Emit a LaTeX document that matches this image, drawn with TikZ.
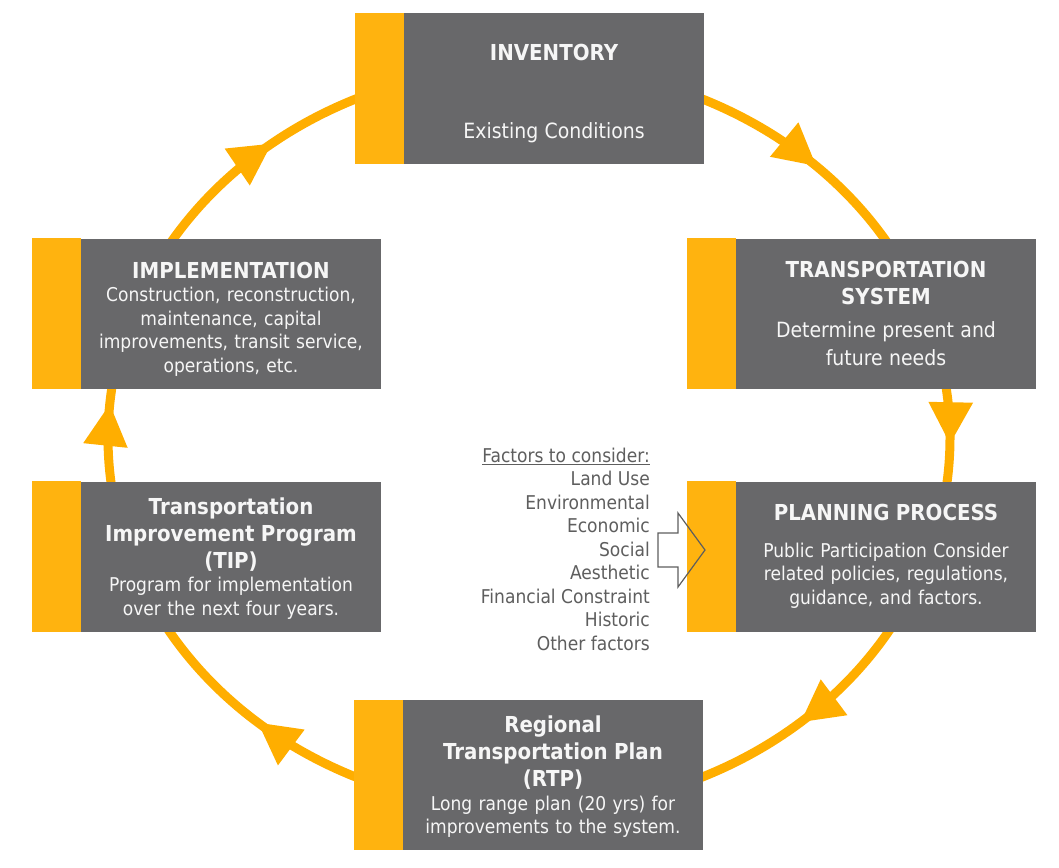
\documentclass[tikz,border=0pt]{standalone}
\usepackage{fontspec}
\setmainfont{DejaVu Sans}[FakeStretch=0.9]
\usetikzlibrary{arrows.meta,decorations.markings}
\definecolor{cycorange}{HTML}{FFAE00}
\definecolor{stripeorange}{HTML}{FFB30F}
\definecolor{boxgray}{HTML}{68686A}
\definecolor{factgray}{HTML}{5E5E5E}
\definecolor{boxtext}{HTML}{F6F6F6}
\newcommand\titlef{\bfseries\fontsize{22}{27}\selectfont}
\newcommand\bodyf{\fontsize{19}{23.5}\selectfont}
\newcommand\bodyL{\fontsize{21}{28.5}\selectfont}
\begin{document}
\begin{tikzpicture}[x=1pt,y=1pt,
  cyc/.style={draw=cycorange, line width=9pt},
  tipat/.style={postaction={decorate,decoration={markings,
      mark=at position #1 with {\arrow{Triangle[length=42pt,width=42pt]}}}}},
  graybox/.style={fill=boxgray, minimum width=300pt, minimum height=150pt,
      text width=292pt, inner sep=0pt, align=center, text=boxtext, font=\bodyf},
  stripe/.style={fill=stripeorange},
  factors/.style={align=right, inner sep=0pt, text=factgray, font=\bodyf},
  hollow/.style={draw=factgray, line width=1.2pt, line join=miter}
]
\useasboundingbox (0,0) rectangle (1059,-867);
\coordinate (O) at (529,-438);
% points of the cycle, lying under the boxes
\coordinate (inv-out)  at ([shift={(O)}]70:421pt and 372pt);
\coordinate (ts-in)    at ([shift={(O)}]28:421pt and 372pt);
\coordinate (ts-out)   at ([shift={(O)}]12:421pt and 372pt);
\coordinate (pp-in)    at ([shift={(O)}]-12:421pt and 372pt);
\coordinate (pp-out)   at ([shift={(O)}]-28:421pt and 372pt);
\coordinate (rtp-in)   at ([shift={(O)}]-70:421pt and 372pt);
\coordinate (rtp-out)  at ([shift={(O)}]-110:421pt and 372pt);
\coordinate (tip-in)   at ([shift={(O)}]-152:421pt and 372pt);
\coordinate (tip-out)  at ([shift={(O)}]192:421pt and 372pt);
\coordinate (impl-in)  at ([shift={(O)}]168:421pt and 372pt);
\coordinate (impl-out) at ([shift={(O)}]152:421pt and 372pt);
\coordinate (inv-in)   at ([shift={(O)}]110:421pt and 372pt);

% connectors
\draw[cyc,tipat=0.56] (inv-out) arc[start angle=70,end angle=28,x radius=421pt,y radius=372pt];
\draw[cyc,tipat=0.54] (ts-out) arc[start angle=12,end angle=-12,x radius=421pt,y radius=372pt];
\draw[cyc,tipat=0.51] (pp-out) arc[start angle=-28,end angle=-70,x radius=421pt,y radius=372pt];
\draw[cyc,tipat=0.49] (rtp-out) arc[start angle=-110,end angle=-152,x radius=421pt,y radius=372pt];
\draw[cyc,tipat=0.72] (tip-out) arc[start angle=192,end angle=168,x radius=421pt,y radius=372pt];
\draw[cyc,tipat=0.57] (impl-out) arc[start angle=152,end angle=110,x radius=421pt,y radius=372pt];

% boxes
\node[graybox] (inv) at (554,-88.5)
  {{\titlef INVENTORY\par}\vspace{50pt}{\bodyL Existing Conditions\par}\vspace{-10pt}};
\node[graybox] (ts) at (886,-313.5)
  {{\titlef TRANSPORTATION\\SYSTEM\par}\vspace{4pt}{\bodyL Determine present and\\future needs\par}};
\node[graybox] (pp) at (886,-556.5)
  {{\titlef PLANNING PROCESS\par}\vspace{13pt}{\bodyf Public Participation Consider\\related policies, regulations,\\guidance, and factors.\par}};
\node[graybox] (rtp) at (553,-775)
  {{\titlef Regional\\Transportation Plan\\(RTP)\par}{\bodyf Long range plan (20 yrs) for\\improvements to the system.\par}\vspace{-4pt}};
\node[graybox] (tip) at (231,-556.5)
  {{\titlef Transportation\\Improvement Program\\(TIP)\par}{\bodyf Program for implementation\\over the next four years.\par}\vspace{-4pt}};
\node[graybox] (impl) at (231,-313.5)
  {{\titlef IMPLEMENTATION\par}{\bodyf Construction, reconstruction,\\maintenance, capital\\improvements, transit service,\\operations, etc.\par}\vspace{-11pt}};

\foreach \b in {inv,ts,pp,rtp,tip,impl}
  \fill[stripe] ([xshift=-48.5pt]\b.north west) rectangle ([xshift=0.5pt]\b.south west);

% factors
\node[factors,anchor=east] (fact) at (650,-549)
  {\underline{Factors to consider:}\\Land Use\\Environmental\\Economic\\Social\\Aesthetic\\Financial Constraint\\Historic\\Other factors};
\draw[hollow] (658,-533) -- (678,-533) -- (678,-513) -- (705,-550)
  -- (678,-587) -- (678,-567) -- (658,-567) -- cycle;
\end{tikzpicture}
\end{document}
